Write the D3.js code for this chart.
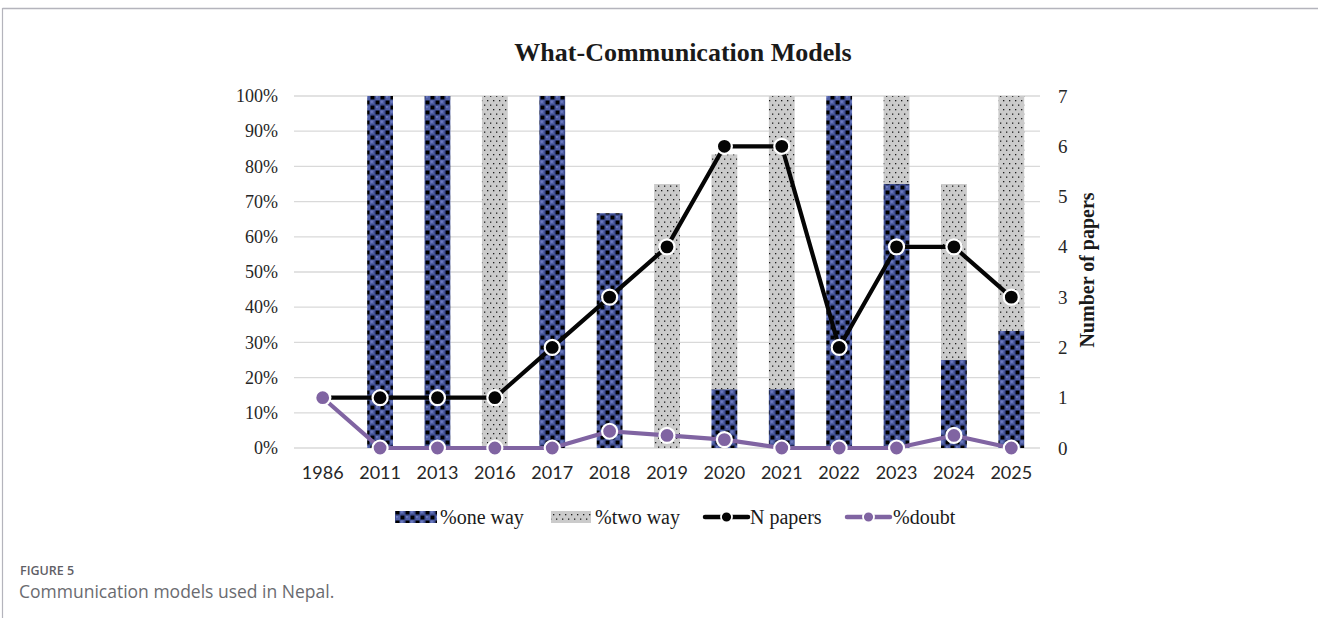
<!DOCTYPE html>
<html>
<head>
<meta charset="utf-8">
<script src="https://cdn.jsdelivr.net/npm/d3@7"></script>
<style>
  html, body { margin: 0; padding: 0; background: #fff; }
  svg { display: block; }
</style>
</head>
<body>
<svg id="chart" width="1318" height="618"></svg>
<script>
// Years covered by the review
const years = ["1986", "2011", "2013", "2016", "2017", "2018", "2019", "2020", "2021", "2022", "2023", "2024", "2025"];
// Share of papers using a one-way model (%)
const oneWay = [0, 100, 100, 0, 100, 66.7, 0, 16.7, 16.7, 100, 75, 25, 33.3];
// Share of papers using a two-way model (%)
const twoWay = [0, 0, 0, 100, 0, 0, 75, 66.7, 83.3, 0, 25, 50, 66.7];
// Number of papers per year (right axis)
const nPapers = [1, 1, 1, 1, 2, 3, 4, 6, 6, 2, 4, 4, 3];
// Share of papers where the model is unclear, as a fraction (right axis)
const doubt = [1, 0, 0, 0, 0, 0.333, 0.25, 0.167, 0, 0, 0, 0.25, 0];

const pctTicks = [0, 10, 20, 30, 40, 50, 60, 70, 80, 90, 100];
const countTicks = [0, 1, 2, 3, 4, 5, 6, 7];

const svg = d3.select("#chart");
const serif = "'Liberation Serif', 'Times New Roman', serif";

// Outer figure frame
svg.append("line").attr("x1", 2.5).attr("x2", 1318).attr("y1", 8.5).attr("y2", 8.5)
  .attr("stroke", "#b4b4bc").attr("stroke-width", 1.5);
svg.append("line").attr("x1", 2.5).attr("x2", 2.5).attr("y1", 8).attr("y2", 618)
  .attr("stroke", "#b4b4bc").attr("stroke-width", 1.2);

// Patterns for the stacked bars
const defs = svg.append("defs");
const T = 10;
const pOne = defs.append("pattern").attr("id", "pOne").attr("patternUnits", "userSpaceOnUse")
  .attr("width", T).attr("height", T);
pOne.append("rect").attr("width", T).attr("height", T).attr("fill", "#10132a");
[[2.5, 2.5], [7.5, 7.5]].forEach(([cx, cy]) => {
  pOne.append("circle").attr("cx", cx).attr("cy", cy).attr("r", 3.1).attr("fill", "#5060a6");
  pOne.append("circle").attr("cx", cx - 0.7).attr("cy", cy - 0.7).attr("r", 1.3).attr("fill", "#6a78bd");
});
[[7.5, 2.5], [2.5, 7.5]].forEach(([cx, cy]) => {
  pOne.append("circle").attr("cx", cx).attr("cy", cy).attr("r", 3.4).attr("fill", "#3c4a8c");
  pOne.append("rect").attr("x", cx - 1.9).attr("y", cy - 1.9).attr("width", 3.8).attr("height", 3.8).attr("fill", "#000");
});

const pTwo = defs.append("pattern").attr("id", "pTwo").attr("patternUnits", "userSpaceOnUse")
  .attr("width", 6).attr("height", 9);
pTwo.append("rect").attr("width", 6).attr("height", 9).attr("fill", "#cbcbcb");
pTwo.append("rect").attr("x", 1).attr("y", 1).attr("width", 1.3).attr("height", 1.3).attr("fill", "#1a1a1a");
pTwo.append("rect").attr("x", 4).attr("y", 5.5).attr("width", 1.3).attr("height", 1.3).attr("fill", "#1a1a1a");

// Scales
const x = d3.scaleBand().domain(years).range([294, 1040]).paddingInner(0.55).paddingOuter(0.275);
const yPct = d3.scaleLinear().domain([0, 100]).range([448, 96]);
const yCount = d3.scaleLinear().domain([0, 7]).range([448, 96]);
const cx = d => x(d) + x.bandwidth() / 2;

// Title
svg.append("text").attr("x", 683).attr("y", 61).attr("text-anchor", "middle")
  .attr("font-family", serif).attr("font-weight", "bold").attr("font-size", 26)
  .attr("fill", "#1a1a1a").text("What-Communication Models");

// Gridlines
svg.append("g").selectAll("line").data(pctTicks).join("line")
  .attr("x1", 294).attr("x2", 1040)
  .attr("y1", d => yPct(d)).attr("y2", d => yPct(d))
  .attr("stroke", "#d9d9d9").attr("stroke-width", 1.3);

// Left axis (percent)
const leftAxis = svg.append("g").attr("transform", "translate(294,0)")
  .call(d3.axisLeft(yPct).tickValues(pctTicks).tickFormat(d => d + "%").tickSize(0).tickPadding(16));
leftAxis.select(".domain").remove();
leftAxis.selectAll("text").attr("font-family", serif).attr("font-size", 18).attr("fill", "#262626");

// Right axis (number of papers)
const rightAxis = svg.append("g").attr("transform", "translate(1040,0)")
  .call(d3.axisRight(yCount).tickValues(countTicks).tickFormat(d3.format("d")).tickSize(0).tickPadding(18));
rightAxis.select(".domain").remove();
rightAxis.selectAll("text").attr("font-family", serif).attr("font-size", 19).attr("fill", "#262626");

svg.append("text").attr("transform", "translate(1094,270) rotate(-90)").attr("text-anchor", "middle")
  .attr("font-family", serif).attr("font-weight", "bold").attr("font-size", 20)
  .attr("fill", "#1a1a1a").text("Number of papers");

// Category axis
const bottomAxis = svg.append("g").attr("transform", "translate(0,448)")
  .call(d3.axisBottom(x).tickSize(0).tickPadding(18));
bottomAxis.select(".domain").remove();
bottomAxis.selectAll("text").attr("font-family", "Lato, 'Open Sans', sans-serif").attr("font-size", 18).attr("fill", "#262626");

// Stacked bars
const rows = years.map((yr, i) => ({ year: yr, one: oneWay[i], two: twoWay[i] }));
const stack = d3.stack().keys(["one", "two"])(rows);
const fills = { one: "url(#pOne)", two: "url(#pTwo)" };
svg.append("g").selectAll("g").data(stack).join("g")
  .attr("fill", s => fills[s.key])
  .selectAll("rect").data(s => s).join("rect")
  .attr("x", d => x(d.data.year))
  .attr("width", x.bandwidth())
  .attr("y", d => yPct(d[1]))
  .attr("height", d => yPct(d[0]) - yPct(d[1]));

// Line series on the count axis
function drawLine(values, color) {
  const pts = years.map((yr, i) => [cx(yr), yCount(values[i])]);
  svg.append("path").attr("d", d3.line()(pts)).attr("fill", "none")
    .attr("stroke", color).attr("stroke-width", 4.2).attr("stroke-linejoin", "round");
  svg.append("g").selectAll("circle").data(pts).join("circle")
    .attr("cx", d => d[0]).attr("cy", d => d[1]).attr("r", 7.5)
    .attr("fill", color).attr("stroke", "#fff").attr("stroke-width", 2.2);
}
drawLine(nPapers, "#050505");
drawLine(doubt, "#8064a2");

// Legend
const lg = svg.append("g").attr("font-family", serif).attr("font-size", 20).attr("fill", "#1a1a1a");
lg.append("rect").attr("x", 395).attr("y", 511).attr("width", 42).attr("height", 12).attr("fill", "url(#pOne)");
lg.append("text").attr("x", 440).attr("y", 524).text("%one way");
lg.append("rect").attr("x", 551).attr("y", 511).attr("width", 40).attr("height", 12).attr("fill", "url(#pTwo)");
lg.append("text").attr("x", 595).attr("y", 524).text("%two way");
[[703, "#050505", 750, "N papers"], [845, "#8064a2", 893, "%doubt"]].forEach(([x0, c, tx, label]) => {
  lg.append("line").attr("x1", x0 + 2).attr("x2", x0 + 45).attr("y1", 517).attr("y2", 517)
    .attr("stroke", c).attr("stroke-width", 4.5).attr("stroke-linecap", "round");
  lg.append("circle").attr("cx", x0 + 23.5).attr("cy", 517).attr("r", 5.5)
    .attr("fill", c).attr("stroke", "#fff").attr("stroke-width", 1.8);
  lg.append("text").attr("x", tx).attr("y", 524).text(label);
});

// Caption
svg.append("text").attr("x", 20).attr("y", 575).attr("font-family", "'Open Sans', sans-serif")
  .attr("font-weight", "600").attr("font-size", 12.5).attr("fill", "#5f6066").text("FIGURE 5");
svg.append("text").attr("x", 19).attr("y", 598).attr("font-family", "'Open Sans', sans-serif")
  .attr("font-size", 17.5).attr("fill", "#6a6b70").text("Communication models used in Nepal.");
</script>
</body>
</html>
